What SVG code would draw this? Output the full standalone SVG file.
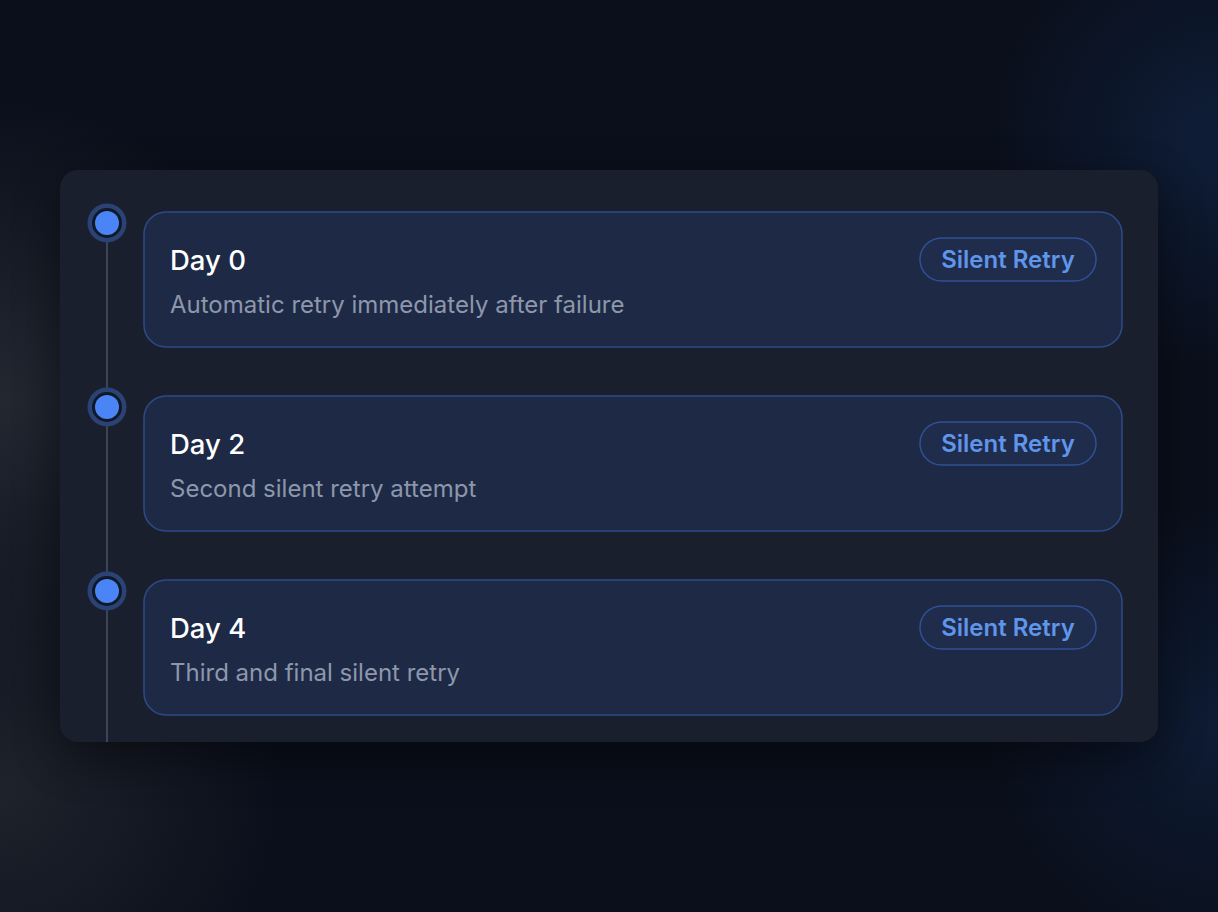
<svg xmlns="http://www.w3.org/2000/svg" width="1218" height="912" viewBox="0 0 1218 912">
<defs>
<radialGradient id="glowL" cx="0" cy="400" r="300" gradientUnits="userSpaceOnUse">
<stop offset="0" stop-color="#262a33" stop-opacity="0.9"/>
<stop offset="1" stop-color="#262a33" stop-opacity="0"/>
</radialGradient>
<radialGradient id="glowL2" cx="0" cy="790" r="280" gradientUnits="userSpaceOnUse">
<stop offset="0" stop-color="#23272f" stop-opacity="0.8"/>
<stop offset="1" stop-color="#23272f" stop-opacity="0"/>
</radialGradient>
<radialGradient id="glowR1" cx="1218" cy="140" r="230" gradientUnits="userSpaceOnUse">
<stop offset="0" stop-color="#112445" stop-opacity="0.7"/>
<stop offset="1" stop-color="#112445" stop-opacity="0"/>
</radialGradient>
<radialGradient id="glowR2" cx="1218" cy="730" r="230" gradientUnits="userSpaceOnUse">
<stop offset="0" stop-color="#112445" stop-opacity="0.6"/>
<stop offset="1" stop-color="#112445" stop-opacity="0"/>
</radialGradient>
<filter id="shadow" x="-20%" y="-20%" width="140%" height="150%">
<feGaussianBlur stdDeviation="24"/>
</filter>
<style>
.card{fill:#1e2a45;stroke:#2d4b88;stroke-width:1.5}
.title{font-family:Inter,"Liberation Sans",sans-serif;font-size:27.5px;fill:#ffffff;font-weight:500}
.sub{font-family:Inter,"Liberation Sans",sans-serif;font-size:24px;fill:#8d97ac}
.badge{fill:#1f2c4b;stroke:#2f5097;stroke-width:1.5}
.badgeText{font-family:Inter,"Liberation Sans",sans-serif;font-size:24px;font-weight:600;fill:#5f95ea;text-anchor:middle}
.ring{fill:#2a4274}
.ringIn{fill:#111827}
.dot{fill:#4a84f5}
</style>
</defs>
<rect width="1218" height="912" fill="#0a0f1b"/>
<rect width="1218" height="912" fill="url(#glowL)"/>
<rect width="1218" height="912" fill="url(#glowL2)"/>
<rect width="1218" height="912" fill="url(#glowR1)"/>
<rect width="1218" height="912" fill="url(#glowR2)"/>
<rect x="60" y="185" width="1098" height="572" rx="18" fill="#000000" opacity="0.45" filter="url(#shadow)"/>
<rect x="60" y="170" width="1098" height="572" rx="18" fill="#1a1f2e"/>
<g id="connectors">
<line x1="107" y1="240" x2="107" y2="742" stroke="#4b5263" stroke-width="1.5"/>
</g>
<g id="node-day0">
<circle class="ring" cx="107" cy="223" r="19.5"/>
<circle class="ringIn" cx="107" cy="223" r="15"/>
<circle class="dot" cx="107" cy="223" r="12"/>
<rect class="card" x="144" y="212" width="978" height="135" rx="22"/>
<text class="title" x="170" y="270">Day 0</text>
<text class="sub" x="170" y="313">Automatic retry immediately after failure</text>
<rect class="badge" x="920" y="238" width="176" height="43" rx="21.5"/>
<text class="badgeText" x="1008" y="268">Silent Retry</text>
</g>
<g id="node-day2">
<circle class="ring" cx="107" cy="407" r="19.5"/>
<circle class="ringIn" cx="107" cy="407" r="15"/>
<circle class="dot" cx="107" cy="407" r="12"/>
<rect class="card" x="144" y="396" width="978" height="135" rx="22"/>
<text class="title" x="170" y="454">Day 2</text>
<text class="sub" x="170" y="497">Second silent retry attempt</text>
<rect class="badge" x="920" y="422" width="176" height="43" rx="21.5"/>
<text class="badgeText" x="1008" y="452">Silent Retry</text>
</g>
<g id="node-day4">
<circle class="ring" cx="107" cy="591" r="19.5"/>
<circle class="ringIn" cx="107" cy="591" r="15"/>
<circle class="dot" cx="107" cy="591" r="12"/>
<rect class="card" x="144" y="580" width="978" height="135" rx="22"/>
<text class="title" x="170" y="638">Day 4</text>
<text class="sub" x="170" y="681">Third and final silent retry</text>
<rect class="badge" x="920" y="606" width="176" height="43" rx="21.5"/>
<text class="badgeText" x="1008" y="636">Silent Retry</text>
</g>
</svg>
